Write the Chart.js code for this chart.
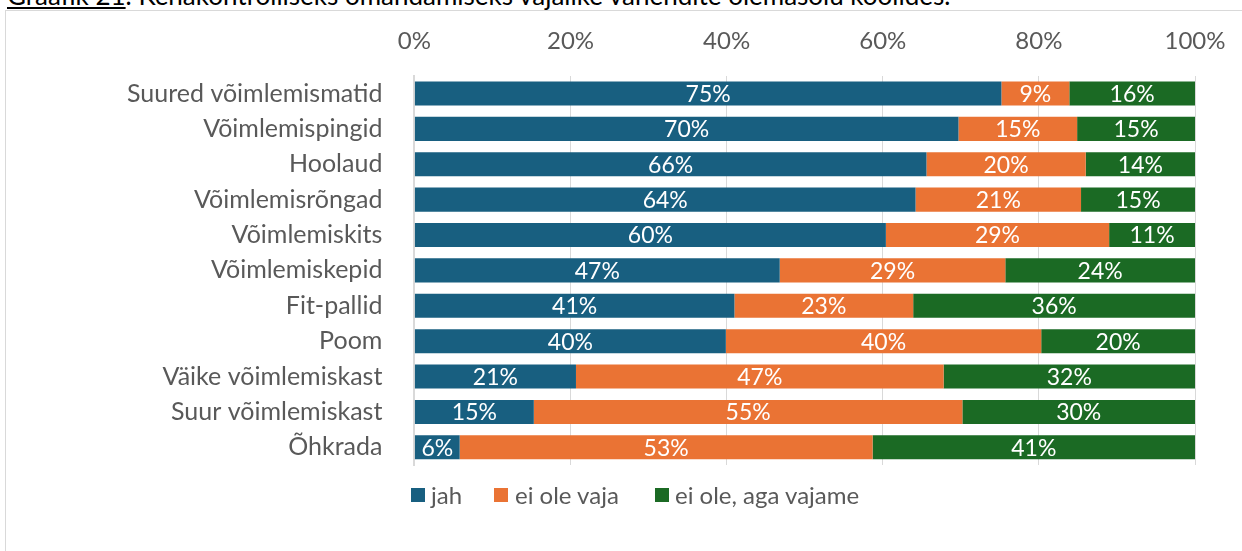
<!DOCTYPE html>
<html>
<head>
<meta charset="utf-8">
<script src="https://cdn.jsdelivr.net/npm/chart.js@4"></script>
<style>
  body { margin: 0; background: #fff; overflow: hidden; }
  #caption { position: absolute; left: 7px; top: -18px; font: 26px/26px Lato, sans-serif; color: #000; white-space: nowrap; }
  #caption u { text-decoration-thickness: 2px; text-underline-offset: 2px; }
  #frame { position: absolute; left: 5px; top: 10px; width: 1300px; height: 600px; border: 1px solid #d9d9d9; }
  #wrap { position: absolute; left: 0; top: 0; width: 1242px; height: 551px; }
  #legend { position: absolute; left: 411px; top: 481px; font: 24px Lato, sans-serif; color: #595959; white-space: nowrap; }
  #legend span.item { position: absolute; top: 0; line-height: 28px; }
  #legend i { position: absolute; top: 7px; width: 14px; height: 14px; }
</style>
</head>
<body>
<div id="caption"><u>Graafik 21</u>. Kehakontrolliseks omandamiseks vajalike vahendite olemasolu koolides.</div>
<div id="frame"></div>
<div id="wrap"><canvas id="myChart"></canvas></div>
<div id="legend"></div>
<script>
// data
const categories = ['Suured võimlemismatid', 'Võimlemispingid', 'Hoolaud', 'Võimlemisrõngad', 'Võimlemiskits',
  'Võimlemiskepid', 'Fit-pallid', 'Poom', 'Väike võimlemiskast', 'Suur võimlemiskast', 'Õhkrada'];
const jah = [75.2, 69.7, 65.6, 64.2, 60.4, 46.8, 41.0, 39.9, 20.7, 15.3, 5.8];
const eiOleVaja = [8.7, 15.2, 20.4, 21.2, 28.6, 28.9, 22.9, 40.4, 47.1, 54.9, 52.9];
const eiOleAgaVajame = [16.1, 15.1, 14.0, 14.6, 11.0, 24.3, 36.1, 19.7, 32.2, 29.8, 41.3];
const seriesNames = ['jah', 'ei ole vaja', 'ei ole, aga vajame'];
const seriesColors = ['#185f80', '#ea7334', '#1b6a24'];
const xTicks = [0, 20, 40, 60, 80, 100];

const font = 'Lato, sans-serif';

// white % labels in the middle of each bar segment
const barLabels = {
  id: 'barLabels',
  afterDatasetsDraw(chart) {
    const ctx = chart.ctx;
    ctx.save();
    ctx.fillStyle = '#fff';
    ctx.font = '23px ' + font;
    ctx.textAlign = 'center';
    ctx.textBaseline = 'middle';
    chart.data.datasets.forEach((ds, i) => {
      chart.getDatasetMeta(i).data.forEach((bar, j) => {
        const x = (bar.x + bar.base) / 2;
        ctx.fillText(Math.round(ds.data[j]) + '%', x, bar.y + 1);
      });
    });
    ctx.restore();
  }
};

const data = {
  labels: categories,
  datasets: seriesNames.map((name, i) => ({
    label: name,
    data: [jah, eiOleVaja, eiOleAgaVajame][i],
    backgroundColor: seriesColors[i]
  }))
};

const config = {
  type: 'bar',
  data,
  plugins: [barLabels],
  options: {
    indexAxis: 'y',
    responsive: true,
    maintainAspectRatio: false,
    animation: false,
    categoryPercentage: 1,
    barPercentage: 0.68,
    layout: { padding: { left: 103, right: 47, top: 7, bottom: 86 } },
    plugins: {
      tooltip: { enabled: false },
      legend: { display: false }
    },
    scales: {
      x: {
        position: 'top',
        stacked: true,
        min: 0, max: 100,
        afterBuildTicks: axis => { axis.ticks = xTicks.map(v => ({ value: v })); },
        // end labels may hang over the plot edges, the layout padding leaves room
        afterFit: axis => { axis.paddingLeft = 0; axis.paddingRight = 0; },
        border: { display: false },
        grid: { color: '#d9d9d9', lineWidth: 1, drawTicks: false },
        ticks: {
          padding: 20,
          color: '#595959',
          font: { family: font, size: 24 },
          callback: v => v + '%'
        }
      },
      y: {
        stacked: true,
        border: { display: true, color: '#d9d9d9', width: 2 },
        grid: { display: false },
        ticks: {
          padding: 24,
          color: '#595959',
          font: { family: font, size: 25 }
        }
      }
    }
  }
};

const myChart = new Chart(document.getElementById('myChart'), config);

// legend built from the chart's own datasets
const legendX = [[0, 20], [83, 104], [244, 264]];
document.getElementById('legend').innerHTML = myChart.data.datasets.map((ds, i) =>
  `<i style="left:${legendX[i][0]}px;background:${ds.backgroundColor}"></i>` +
  `<span class="item" style="left:${legendX[i][1]}px">${ds.label}</span>`).join('');
</script>
</body>
</html>
